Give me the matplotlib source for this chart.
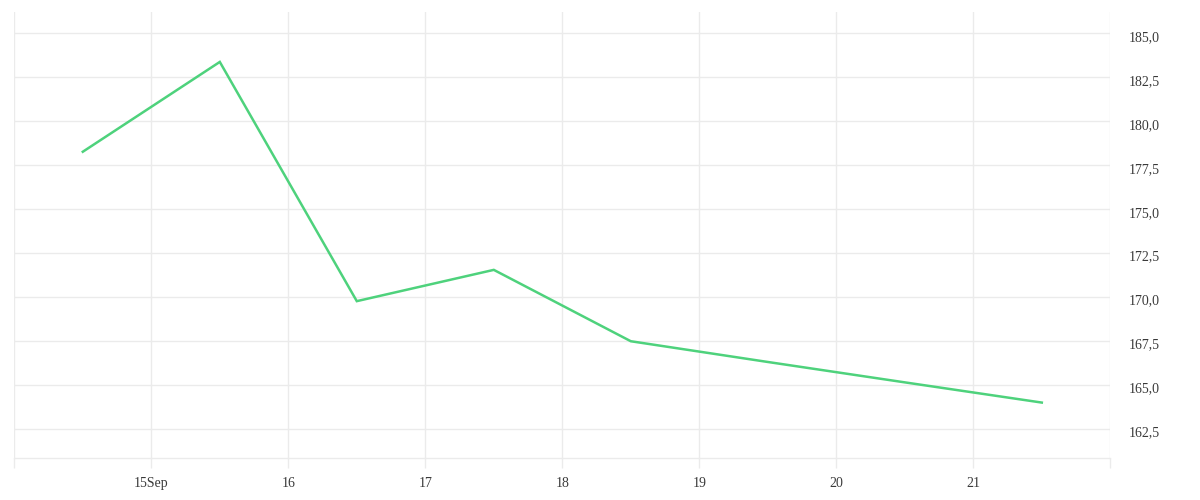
import matplotlib
matplotlib.use("Agg")
import matplotlib.pyplot as plt
import matplotlib.transforms as mtransforms
from matplotlib.ticker import FixedLocator, FuncFormatter

# Data
days = [14.5, 15.5, 16.5, 17.5, 18.5, 19.5, 20.5, 21.5]   # day of September
values = [178.26, 183.37, 169.76, 171.54, 167.48, 166.3, 165.14, 163.99]
x_ticks = [14, 15, 16, 17, 18, 19, 20, 21, 22]
x_labels = ["", "15Sep", "16", "17", "18", "19", "20", "21", ""]
y_ticks = [162.5, 165.0, 167.5, 170.0, 172.5, 175.0, 177.5, 180.0, 182.5, 185.0]

GRID = "#ebebeb"
LINE = "#4ed27c"
TEXT = "#3a3a3a"

plt.rcParams['font.family'] = ['Liberation Serif', 'DejaVu Serif']

fig = plt.figure(figsize=(12, 5), dpi=100)
W, H = 1200, 500
left, right, top, bottom = 14.3, 1110.3, 12, 458.3
ax = fig.add_axes([left / W, 1 - bottom / H, (right - left) / W, (bottom - top) / H])

ax.plot(days, values, color=LINE, linewidth=1.8, solid_joinstyle='miter', zorder=3)

ax.set_xlim(14, 22)
ax.set_ylim(160.82, 186.21)

ax.xaxis.set_major_locator(FixedLocator(x_ticks))
ax.set_xticklabels(x_labels)
ax.yaxis.set_major_locator(FixedLocator(y_ticks))
ax.yaxis.set_major_formatter(FuncFormatter(lambda v, p: f"{v:.1f}".replace(".", ",")))
ax.yaxis.tick_right()

ax.grid(True, color=GRID, linewidth=1.0, zorder=0)
for s in ["top", "left", "right"]:
    ax.spines[s].set_visible(False)
ax.spines["bottom"].set_color(GRID)
ax.spines["bottom"].set_linewidth(1.0)

ax.tick_params(axis='x', length=7.2, width=1.0, color=GRID, pad=6,
               labelsize=10, labelcolor=TEXT)
ax.tick_params(axis='y', length=0, pad=13, labelsize=10, labelcolor=TEXT)

offset = mtransforms.ScaledTranslation(0, -3 / 72, fig.dpi_scale_trans)
for lab in ax.get_yticklabels():
    lab.set_verticalalignment('center')
    lab.set_transform(lab.get_transform() + offset)

fig.savefig("out.png", dpi=100, facecolor="white")
